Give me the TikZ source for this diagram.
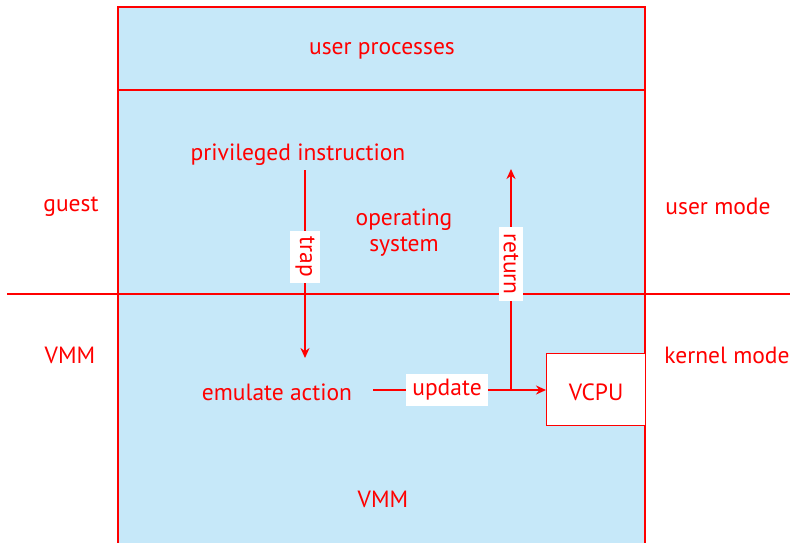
\documentclass[tikz,border=0pt]{standalone}
\usepackage{fontspec}
\setmainfont{PT Sans}
\usetikzlibrary{arrows.meta}
\definecolor{vred}{HTML}{FF0000}
\definecolor{vblue}{HTML}{C6E8F9}
\tikzset{
  lbl/.style={text=vred, font=\fontsize{23.5}{26}\selectfont, inner sep=0pt, align=center, yshift=-2.5pt},
  wlbl/.style={text=vred, font=\fontsize{23.5}{26}\selectfont, align=center, fill=white, inner xsep=6pt, inner ysep=5pt},
  redline/.style={draw=vred, line width=1.8pt},
  arr/.style={redline, -{Stealth[length=10pt,width=9pt]}},
  thin/.style={draw=vred, line width=1.2pt}
}
\begin{document}
\begin{tikzpicture}[x=1pt,y=-1pt]
\useasboundingbox (0,0) rectangle (790,542);
% main box
\fill[vblue] (118,7) rectangle (645,545);
\draw[thin] (118,545) -- (118,7) -- (645,7) -- (645,545);
\draw[thin] (118,90) -- (645,90);
% guest/vmm divider
\draw[redline] (7,294) -- (790,294);
% VCPU box
\node[draw=vred, line width=1.2pt, fill=white, minimum width=99pt, minimum height=72pt, anchor=north west, inner sep=0pt] (vcpu) at (546,353) {};
\node[lbl] at (vcpu.center) {VCPU};
% texts
\node[lbl] (up) at (382,48) {user processes};
\node[lbl] (priv) at (298,152) {privileged instruction};
\node[lbl] (os) at (404,230) {operating\\system};
\node[lbl] (guest) at (71,204) {guest};
\node[lbl] (umode) at (718,204) {user mode};
\node[lbl] (vmml) at (70,353) {VMM};
\node[lbl] (kmode) at (727,353) {kernel mode};
\node[lbl] (emu) at (277,390) {emulate action};
\node[lbl] (vmm) at (383,497) {VMM};
% trap arrow
\coordinate (trapS) at (305,170);
\coordinate (trapE) at (305,358);
\draw[arr] (trapS) -- (trapE);
\node[wlbl, rotate=-90] (trap) at (305,257) {trap};
% update arrow
\coordinate (updS) at (373,390);
\coordinate (junc) at (511,390);
\draw[arr] (updS) -- (vcpu.west |- updS);
\node[wlbl] (upd) at (447,390) {update};
% return arrow
\coordinate (retE) at (511,169);
\draw[arr] (junc) -- (retE);
\node[wlbl, rotate=-90] (ret) at (511,264) {return};
\end{tikzpicture}
\end{document}
